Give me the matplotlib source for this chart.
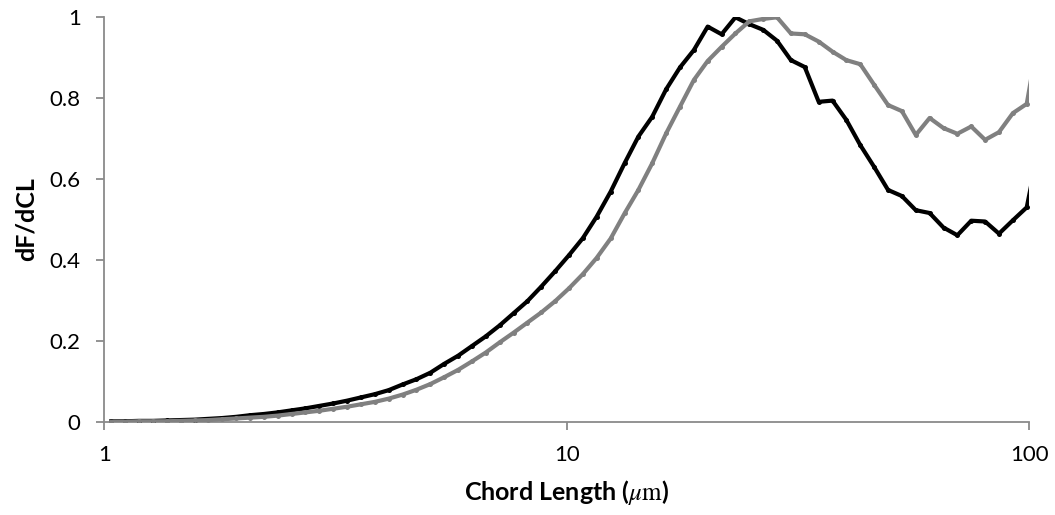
import matplotlib
matplotlib.use("Agg")
import matplotlib.pyplot as plt
from matplotlib.ticker import FixedLocator, FixedFormatter, NullLocator

plt.rcParams["font.family"] = ["Lato", "DejaVu Sans"]
plt.rcParams["mathtext.fontset"] = "stix"

# FBRM chord-length channel midpoints (um)
chord_length = [
    1.035, 1.109, 1.189, 1.274, 1.365, 1.462, 1.567, 1.679, 1.799, 1.928,
    2.065, 2.213, 2.371, 2.541, 2.723, 2.917, 3.126, 3.350, 3.589, 3.846,
    4.121, 4.416, 4.732, 5.070, 5.433, 5.821, 6.237, 6.683, 7.161, 7.674,
    8.222, 8.810, 9.441, 10.12, 10.84, 11.61, 12.45, 13.34, 14.29, 15.31,
    16.41, 17.58, 18.84, 20.18, 21.63, 23.17, 24.83, 26.61, 28.51, 30.55,
    32.73, 35.08, 37.58, 40.27, 43.15, 46.24, 49.55, 53.09, 56.89, 60.95,
    65.31, 69.98, 74.99, 80.35, 86.10, 92.26, 98.86, 105.9,
]

# Normalised distribution, black series
dist_black = [
    0.001, 0.001, 0.002, 0.002, 0.003, 0.004, 0.005, 0.007, 0.009, 0.012,
    0.016, 0.019, 0.023, 0.028, 0.033, 0.039, 0.045, 0.052, 0.060, 0.068,
    0.078, 0.092, 0.105, 0.121, 0.143, 0.163, 0.187, 0.211, 0.238, 0.268,
    0.298, 0.334, 0.372, 0.412, 0.454, 0.507, 0.569, 0.639, 0.705, 0.754,
    0.822, 0.876, 0.919, 0.977, 0.958, 1.000, 0.983, 0.969, 0.942, 0.894,
    0.877, 0.791, 0.794, 0.746, 0.684, 0.630, 0.573, 0.558, 0.523, 0.516,
    0.480, 0.461, 0.497, 0.495, 0.465, 0.498, 0.530, 0.700,
]

# Normalised distribution, grey series
dist_grey = [
    0.000, 0.000, 0.001, 0.001, 0.001, 0.002, 0.003, 0.004, 0.006, 0.008,
    0.010, 0.012, 0.015, 0.019, 0.023, 0.027, 0.032, 0.037, 0.043, 0.049,
    0.057, 0.067, 0.079, 0.093, 0.110, 0.128, 0.149, 0.171, 0.196, 0.220,
    0.245, 0.270, 0.298, 0.330, 0.365, 0.405, 0.453, 0.515, 0.573, 0.639,
    0.713, 0.779, 0.845, 0.892, 0.927, 0.960, 0.990, 0.996, 1.000, 0.960,
    0.958, 0.940, 0.915, 0.894, 0.884, 0.833, 0.783, 0.768, 0.709, 0.751,
    0.726, 0.712, 0.730, 0.697, 0.716, 0.763, 0.786, 0.980,
]

x_ticks = [1, 10, 100]
x_tick_labels = ["1", "10", "100"]
y_ticks = [0, 0.2, 0.4, 0.6, 0.8, 1]
y_tick_labels = ["0", "0.2", "0.4", "0.6", "0.8", "1"]

fig = plt.figure(figsize=(10.55, 5.15), dpi=100)
ax = fig.add_axes([0.0989, 0.1812, 0.8765, 0.7852])

ax.plot(chord_length, dist_black, color="black", lw=3.0,
        marker="o", ms=3.6, mfc="black", mec="black", mew=0, zorder=3)
ax.plot(chord_length, dist_grey, color="#808080", lw=3.0,
        marker="o", ms=3.6, mfc="#808080", mec="#808080", mew=0, zorder=4)

ax.set_xscale("log")
ax.set_xlim(1, 100)
ax.set_ylim(0, 1)

ax.xaxis.set_major_locator(FixedLocator(x_ticks))
ax.xaxis.set_major_formatter(FixedFormatter(x_tick_labels))
ax.xaxis.set_minor_locator(NullLocator())
ax.yaxis.set_major_locator(FixedLocator(y_ticks))
ax.yaxis.set_major_formatter(FixedFormatter(y_tick_labels))

axis_grey = "#8a8a8a"
for side in ("top", "right"):
    ax.spines[side].set_visible(False)
for side in ("left", "bottom"):
    ax.spines[side].set_color(axis_grey)
    ax.spines[side].set_linewidth(1.3)

ax.tick_params(axis="both", which="major", direction="out", length=6,
               width=1.3, color=axis_grey, labelsize=16, labelcolor="black")
ax.tick_params(axis="y", pad=11)
ax.tick_params(axis="x", pad=11)

ax.set_ylabel("dF/dCL", fontsize=18, fontweight="bold")
ax.set_xlabel(r"Chord Length ($\mu\mathrm{m}$)", fontsize=18, fontweight="bold")
ax.yaxis.set_label_coords(-0.085, 0.5)
ax.xaxis.set_label_coords(0.5, -0.175)
ax.xaxis.label.set_va("center")
ax.yaxis.label.set_va("center")

fig.savefig("out.png", dpi=100, facecolor="white")
